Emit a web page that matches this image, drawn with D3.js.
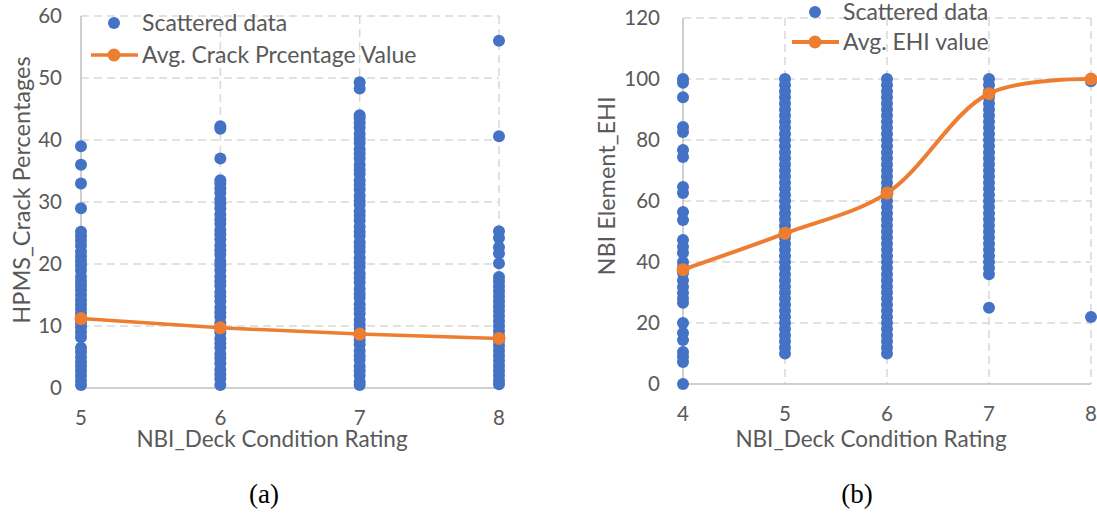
<!DOCTYPE html>
<html>
<head>
<meta charset="utf-8">
<script src="https://cdn.jsdelivr.net/npm/d3@7"></script>
<style>
  html, body { margin: 0; padding: 0; background: #fff; }
  svg { display: block; }
  .tick-label, .axis-title, .legend-text { font-family: Lato, "Open Sans", sans-serif; fill: #595959; }
  .caption { font-family: "Liberation Serif", "Times New Roman", serif; fill: #000; }
</style>
</head>
<body>
<svg id="chart" width="1097" height="516"></svg>
<script>
// ---- Panel (a): HPMS crack percentage by NBI deck condition rating ----
const crackRatings = [5, 6, 7, 8];
const crackRating5 = [39, 36, 33, 29, 25.2, 24.5, 23.8, 23, 22, 21.2, 20.5, 19.8, 19, 18, 17.2, 16.5, 15.8, 15, 14.2, 13.5, 12.8, 12, 11.2, 10.5, 9.8, 9, 8.2, 6.5, 5.8, 5, 4.2, 3.5, 2.8, 2, 1.2, 0.5];
const crackRating6 = [42.2, 41.8, 37, 33.5, 33, 32.2, 31.5, 30.5, 29.8, 29, 28, 27.2, 26.5, 25.5, 24.8, 24, 23, 22.2, 21.5, 20.5, 19.8, 19, 18, 17.2, 16.5, 15.5, 14.8, 14, 13, 12.2, 11.5, 10.5, 9.8, 9, 8, 7.2, 6.5, 5.5, 4.8, 4, 3, 2.2, 1.5, 0.5];
const crackRating7 = [49.3, 48.3, 44, 43.5, 42.8, 42, 41, 40.2, 39.5, 38.5, 37.8, 37, 36, 35.2, 34.5, 33.5, 32.8, 32, 31, 30.2, 29.5, 28.5, 27.8, 27, 26, 25.2, 24.5, 23.5, 22.8, 22, 21, 20.2, 19.5, 18.5, 17.8, 17, 16, 15.2, 14.5, 13.5, 12.8, 12, 11, 10.2, 9.5, 8.5, 7.8, 7, 6, 5.2, 4.5, 3.5, 2.8, 2, 1, 0.5];
const crackRating8 = [56, 40.6, 25.3, 24.2, 22.7, 21.7, 20.1, 17.9, 17.2, 16.4, 15.6, 14.8, 14, 13.2, 12.4, 11.6, 10.8, 10, 9.2, 8.4, 7.6, 6.8, 6, 5.2, 4.4, 3.6, 2.8, 2, 1.2, 0.6];
const crackAvg = [11.2, 9.7, 8.7, 8.0];
const crackYTicks = [0, 10, 20, 30, 40, 50, 60];

// ---- Panel (b): NBI element EHI by NBI deck condition rating ----
const ehiRatings = [4, 5, 6, 7, 8];
const ehiRating4 = [100, 98.8, 94, 84.3, 82.6, 76.7, 74.4, 64.6, 62.6, 56.4, 53.8, 47.2, 45, 43, 40, 38.4, 36.4, 34, 31.8, 29.8, 28, 26.6, 20, 16.7, 14.4, 10.5, 8.9, 7.2, 0];
const ehiRating5 = [100, 98, 96, 94, 92, 90, 88, 86, 84, 82, 80, 78, 76, 74, 72, 70, 68, 66, 64, 62, 60, 58, 56, 54, 52, 50, 48, 46, 44, 42, 40, 38, 36, 34, 32, 30, 28, 26, 24, 22, 20, 18, 16, 14, 12, 10];
const ehiRating6 = [100, 98, 96, 94, 92, 90, 88, 86, 84, 82, 80, 78, 76, 74, 72, 70, 68, 66, 64, 62, 60, 58, 56, 54, 52, 50, 48, 46, 44, 42, 40, 38, 36, 34, 32, 30, 28, 26, 24, 22, 20, 18, 16, 14, 12, 10];
const ehiRating7 = [100, 98, 96, 94, 92, 90, 88, 86, 84, 82, 80, 78, 76, 74, 72, 70, 68, 66, 64, 62, 60, 58, 56, 54, 52, 50, 48, 46, 44, 42, 40, 38, 36, 25];
const ehiRating8 = [99.3, 22];
const ehiAvg = [37.5, 49.4, 62.6, 95.2, 100];
const ehiYTicks = [0, 20, 40, 60, 80, 100, 120];

const BLUE = "#4472C4";
const ORANGE = "#ED7D31";
const GRID = "#D9D9D9";
const AXIS = "#BFBFBF";

const svg = d3.select("#chart");

function drawPanel(cfg) {
  const g = svg.append("g");
  const x = d3.scaleLinear().domain(cfg.xDomain).range(cfg.xRange);
  const y = d3.scaleLinear().domain(cfg.yDomain).range(cfg.yRange);

  // horizontal gridlines (dashed), skipping the baseline
  g.append("g").selectAll("line")
    .data(cfg.yTicks.filter(v => v !== cfg.yDomain[0]))
    .join("line")
    .attr("x1", x(cfg.xDomain[0])).attr("x2", x(cfg.xDomain[1]))
    .attr("y1", d => y(d)).attr("y2", d => y(d))
    .attr("stroke", GRID).attr("stroke-width", 1.5).attr("stroke-dasharray", "8,5");

  // vertical gridlines (dashed), skipping the left axis
  g.append("g").selectAll("line")
    .data(cfg.categories.filter(v => v !== cfg.xDomain[0]))
    .join("line")
    .attr("x1", d => x(d)).attr("x2", d => x(d))
    .attr("y1", y(cfg.yDomain[1])).attr("y2", y(cfg.yDomain[0]))
    .attr("stroke", GRID).attr("stroke-width", 1.5).attr("stroke-dasharray", "8,5");

  // solid axis lines
  g.append("line")
    .attr("x1", x(cfg.xDomain[0])).attr("x2", x(cfg.xDomain[0]))
    .attr("y1", y(cfg.yDomain[1])).attr("y2", y(cfg.yDomain[0]))
    .attr("stroke", AXIS).attr("stroke-width", 1.5);
  g.append("line")
    .attr("x1", x(cfg.xDomain[0])).attr("x2", x(cfg.xDomain[1]))
    .attr("y1", y(cfg.yDomain[0])).attr("y2", y(cfg.yDomain[0]))
    .attr("stroke", AXIS).attr("stroke-width", 1.5);

  // y tick labels
  g.append("g").selectAll("text")
    .data(cfg.yTicks)
    .join("text")
    .attr("class", "tick-label")
    .attr("x", x(cfg.xDomain[0]) - cfg.yTickPad)
    .attr("y", d => y(d))
    .attr("dy", "0.36em")
    .attr("text-anchor", "end")
    .attr("font-size", 20.5)
    .text(d => d);

  // x tick labels
  g.append("g").selectAll("text")
    .data(cfg.categories)
    .join("text")
    .attr("class", "tick-label")
    .attr("x", d => x(d))
    .attr("y", y(cfg.yDomain[0]) + cfg.xTickPad)
    .attr("dy", "0.36em")
    .attr("text-anchor", "middle")
    .attr("font-size", 20.5)
    .text(d => d);

  // axis titles
  g.append("text")
    .attr("class", "axis-title")
    .attr("x", cfg.xTitlePos[0]).attr("y", cfg.xTitlePos[1])
    .attr("dy", "0.36em")
    .attr("text-anchor", "middle")
    .attr("font-size", 22.5)
    .text(cfg.xTitle);
  g.append("text")
    .attr("class", "axis-title")
    .attr("transform", `translate(${cfg.yTitlePos[0]},${cfg.yTitlePos[1]}) rotate(-90)`)
    .attr("dy", "0.36em")
    .attr("text-anchor", "middle")
    .attr("font-size", 23.5)
    .text(cfg.yTitle);

  // scattered observations
  const pts = cfg.categories.flatMap((c, i) => cfg.series[i].map(v => ({ c, v })));
  g.append("g").selectAll("circle")
    .data(pts)
    .join("circle")
    .attr("cx", d => x(d.c))
    .attr("cy", d => y(d.v))
    .attr("r", 6)
    .attr("fill", BLUE);

  // average line with markers
  const avgPts = cfg.categories.map((c, i) => ({ c, v: cfg.avg[i] }));
  g.append("path")
    .datum(avgPts)
    .attr("fill", "none")
    .attr("stroke", ORANGE)
    .attr("stroke-width", cfg.lineWidth)
    .attr("stroke-linejoin", "round")
    .attr("d", d3.line().x(d => x(d.c)).y(d => y(d.v)).curve(cfg.curve));
  g.append("g").selectAll("circle")
    .data(avgPts)
    .join("circle")
    .attr("cx", d => x(d.c))
    .attr("cy", d => y(d.v))
    .attr("r", 6.5)
    .attr("fill", ORANGE);

  // legend
  const lg = g.append("g").attr("transform", `translate(${cfg.legendPos[0]},${cfg.legendPos[1]})`);
  lg.append("circle").attr("cx", 0).attr("cy", 0).attr("r", 6).attr("fill", BLUE);
  lg.append("text").attr("class", "legend-text")
    .attr("x", 28).attr("y", 0).attr("dy", "0.36em").attr("font-size", 23)
    .text("Scattered data");
  lg.append("line")
    .attr("x1", -23).attr("x2", 24).attr("y1", cfg.legendGap).attr("y2", cfg.legendGap)
    .attr("stroke", ORANGE).attr("stroke-width", cfg.lineWidth);
  lg.append("circle").attr("cx", 0).attr("cy", cfg.legendGap).attr("r", 6.5).attr("fill", ORANGE);
  lg.append("text").attr("class", "legend-text")
    .attr("x", 28).attr("y", cfg.legendGap).attr("dy", "0.36em").attr("font-size", 23)
    .text(cfg.avgLabel);

  // caption
  svg.append("text")
    .attr("class", "caption")
    .attr("x", cfg.captionPos[0]).attr("y", cfg.captionPos[1])
    .attr("text-anchor", "middle")
    .attr("font-size", 27)
    .text(cfg.caption);
}

drawPanel({
  categories: crackRatings,
  series: [crackRating5, crackRating6, crackRating7, crackRating8],
  avg: crackAvg,
  yTicks: crackYTicks,
  xDomain: [5, 8], xRange: [81, 499],
  yDomain: [0, 60], yRange: [388, 16],
  yTickPad: 19, xTickPad: 30,
  xTitle: "NBI_Deck Condition Rating", xTitlePos: [272, 439],
  yTitle: "HPMS_Crack Percentages", yTitlePos: [22, 190],
  lineWidth: 3.5, curve: d3.curveLinear,
  legendPos: [114, 23], legendGap: 32,
  avgLabel: "Avg. Crack Prcentage Value",
  caption: "(a)", captionPos: [264, 503]
});

drawPanel({
  categories: ehiRatings,
  series: [ehiRating4, ehiRating5, ehiRating6, ehiRating7, ehiRating8],
  avg: ehiAvg,
  yTicks: ehiYTicks,
  xDomain: [4, 8], xRange: [683, 1091],
  yDomain: [0, 120], yRange: [384, 18],
  yTickPad: 23, xTickPad: 30,
  xTitle: "NBI_Deck Condition Rating", xTitlePos: [871, 439],
  yTitle: "NBI Element_EHI", yTitlePos: [607, 186],
  lineWidth: 4, curve: d3.curveCatmullRom,
  legendPos: [815, 12], legendGap: 30,
  avgLabel: "Avg. EHI value",
  caption: "(b)", captionPos: [857, 503]
});
</script>
</body>
</html>
